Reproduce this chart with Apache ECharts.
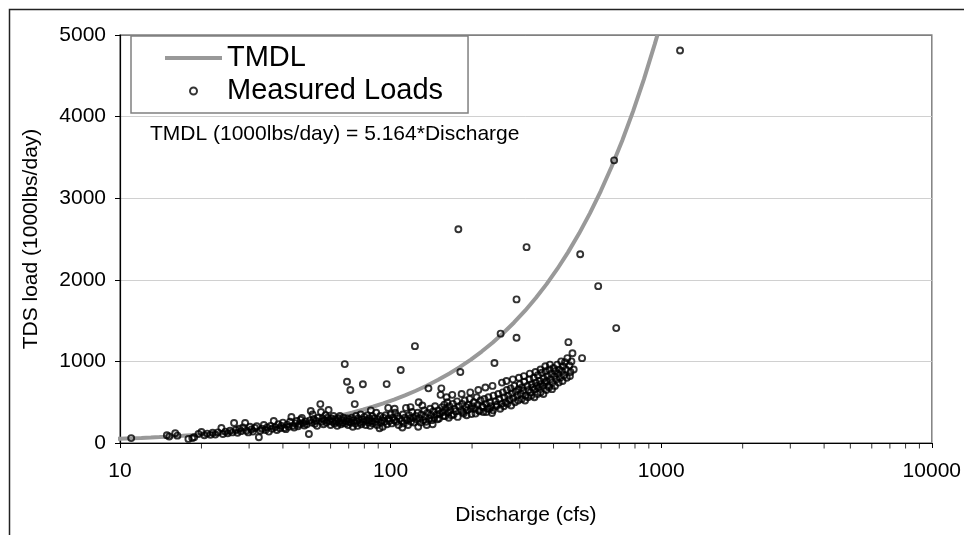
<!DOCTYPE html>
<html>
<head>
<meta charset="utf-8">
<script src="https://cdn.jsdelivr.net/npm/echarts@6/dist/echarts.min.js"></script>
<style>
html,body{margin:0;padding:0;background:#fff;}
#chart{width:964px;height:535px;}
</style>
</head>
<body>
<div id="chart"></div>
<script>
// ---- data ----
const xTickLabels = [10, 100, 1000, 10000];
const yTickLabels = [0, 1000, 2000, 3000, 4000, 5000];
const minorTickValues = [20,30,40,50,60,70,80,90,200,300,400,500,600,700,800,900,2000,3000,4000,5000,6000,7000,8000,9000];

// TMDL (1000lbs/day) = 5.164*Discharge, tabulated
const tmdlQ = [9.5,10,11,12,13,14,15,17,19,21,23,25,28,31,34,38,42,46,50,55,60,66,72,79,86,94,103,113,124,136,150,165,180,198,217,238,261,286,314,344,377,413,453,497,545,598,655,718,787,863,946,968];
const tmdlLoad = [49.06,51.64,56.80,61.97,67.13,72.30,77.46,87.79,98.12,108.44,118.77,129.10,144.59,160.08,175.58,196.23,216.89,237.54,258.20,284.02,309.84,340.82,371.81,407.96,444.10,485.42,531.89,583.53,640.34,702.30,774.60,852.06,929.52,1022.47,1120.59,1229.03,1347.80,1476.90,1621.50,1776.42,1946.83,2132.73,2339.29,2566.51,2814.38,3088.07,3382.42,3707.75,4064.07,4456.53,4885.14,4998.75];

// Measured loads [discharge cfs, load 1000lbs/day]
const measuredLoads = [
[11,60],[14.9,95],[15.2,80],[16,120],[16.3,90],[17.9,50],[18.5,60],[18.8,70],[19.5,110],[20,135],
[20.5,95],[21,115],[21.6,100],[22,125],[22.5,105],[23,130],[23.7,184],[24,110],[24.5,140],[25,120],[25.5,150],[26,130],[26.4,245],[26.8,160],[27.2,125],[27.6,175],[28,145],[28.5,190],[29,245],[29.3,150],[29.8,130],[30.2,200],[30.6,165],[31,140],[31.5,185],[32,205],[32.6,70],[33,150],[33.5,175],[34,220],[34.5,160],[35,190],[35.5,140],[36,210],[36.5,175],[37,270],[37.5,195],[38,160],[38.5,230],[39,180],[39.5,210],
[40,250],[40.5,185],[41,170],[41.5,225],[42,200],[42.5,260],[43,318],[43.5,210],[44,190],[44.5,240],[45,270],[45.5,205],[46,230],[46.5,285],[47,306],[47.5,245],[48,215],[48.5,265],[49,230],[49.9,110],[50.3,275],[50.7,392],[51,250],[51.5,350],[52,295],[52.5,235],[53,270],[53.5,210],[54,310],[55,477],[55.3,380],[55.7,260],[56,300],[56.5,230],[57,280],[57.5,340],[58,250],[58.5,310],[59,404],[59.5,270],[60,220],[60.5,300],[61,260],[61.5,330],[62,240],[62.5,290],[63,260],[63.5,210],[64,300],[64.5,250],[65,330],[65.5,230],[66,280],[66.5,250],[67,310],[67.7,967],[68,240],[68.5,270],[69,750],[69.3,300],[69.7,220],[70,260],[70.5,290],
[71,649],[71.5,250],[72,310],[72.5,200],[73,280],[73.7,477],[74,240],[74.5,330],[75,270],[75.5,210],[76,300],[77,250],[77.5,350],[78,230],[78.5,290],[79,720],[79.5,260],[80,320],[81,220],[81.5,280],[82,340],[83,250],[83.5,300],[84,210],[84.5,400],[85,270],[85.5,330],[86,240],[87,300],[88,260],[88.5,370],[89,220],[90,290],[91,180],[91.5,330],[92,250],[93,280],[93.5,200],[94,310],[95,260],[96,340],[96.7,722],[97,230],[98,430],[98.5,300],[99,270],[100,350],
[101,240],[102,310],[103,280],[103.5,420],[104,370],[105,260],[106,330],[107,220],[108,300],[109,894],[110,270],[110.5,190],[111,350],[112,240],[113,310],[114,430],[115,280],[116,220],[117,340],[118,300],[118.5,440],[119,260],[120,380],[121,310],[122,250],[123,1187],[124,330],[125,290],[126,370],[126.5,200],[127,500],[128,300],[129,250],[130,350],[131,460],[132,280],[133,400],[134,320],[135,260],[136,220],[137,370],[138,670],[139,300],[140,420],[141,340],[142,280],[143,230],[144,390],[145,310],[146,450],[148,350],[149,290],[150,400],
[151,300],[152,360],[153,590],[154,670],[155,440],[156,380],[157,330],[158,470],[159,330],[160,420],[161,560],[162,500],[163,370],[164,310],[165,450],[166,400],[168,340],[169,590],[170,480],[171,350],[172,420],[174,390],[176,510],[177,320],[178,2620],[179,450],[181,870],[182,400],[183,600],[184,480],[185,380],[186,360],[188,520],[190,440],[191,340],[192,400],[194,470],[196,540],[197,620],[198,420],[199,355],[200,450],[203,500],[205,420],[206,360],[208,560],[210,470],[211,650],[212,400],[213,390],[215,520],[218,450],[219,440],[220,380],[222,540],[224,680],[225,480],[226,380],[228,420],[230,560],[232,420],[233,500],[235,450],[237,367],[238,700],[239,400],[240,580],[242,980],[244,510],[246,450],[247,470],[250,600],
[252,540],[254,420],[255,1340],[257,480],[258,740],[260,620],[262,450],[263,560],[266,500],[268,760],[269,650],[270,480],[272,580],[275,530],[278,670],[279,460],[281,610],[283,780],[284,550],[287,700],[288,500],[290,630],[292,1760],[292,1290],[294,580],[296,520],[297,660],[298,800],[300,720],[303,600],[305,540],[306,680],[309,640],[311,820],[312,750],[314,520],[315,580],[318,2400],[320,700],[322,560],[323,650],[326,780],[327,850],[329,620],[331,580],[332,720],[335,680],[338,800],[340,560],[341,660],[343,870],[344,740],[347,700],[349,600],[350,830],[353,680],[356,760],[358,620],[358,900],[359,720],[362,860],[365,700],[367,600],[368,790],[371,740],[373,940],[374,880],[376,650],[377,760],[380,820],[383,700],[385,680],[386,900],[388,960],[390,780],[393,850],[395,660],[396,740],[400,920],
[403,820],[405,700],[406,880],[410,780],[413,960],[416,850],[418,740],[420,900],[423,800],[427,1000],[430,880],[432,760],[434,940],[437,830],[441,990],[445,900],[448,800],[450,1040],[454,1236],[458,950],[460,820],[462,870],[466,1000],[470,1100],[475,900],
[502,2313],[510,1040],[585,1922],[670,3464],[682,1408],[1174,4810]
];

const FONT = '"Liberation Sans", Arial, sans-serif';
const plainNum = v => String(Math.round(v));

const chart = echarts.init(document.getElementById('chart'), null, {renderer: 'canvas'});
chart.setOption({
  animation: false,
  backgroundColor: '#fff',
  textStyle: {fontFamily: FONT},
  grid: {
    left: 120, top: 35, width: 813, height: 408,
    show: true, backgroundColor: '#fff', borderColor: '#808080', borderWidth: 1.5
  },
  legend: {
    left: 131, top: 36, orient: 'vertical',
    padding: [7, 25, 7, 32],
    itemWidth: 57, itemHeight: 7, itemGap: 3,
    backgroundColor: '#fff', borderColor: '#808080', borderWidth: 1.5,
    textStyle: {fontSize: 29, fontFamily: FONT, color: '#000', lineHeight: 30},
    data: [
      {name: 'TMDL', itemStyle: {opacity: 0}, lineStyle: {width: 4, color: '#999999'}},
      {name: 'Measured Loads'}
    ]
  },
  xAxis: {
    type: 'log', logBase: 10, min: xTickLabels[0], max: xTickLabels[xTickLabels.length - 1],
    name: 'Discharge (cfs)', nameLocation: 'middle', nameGap: 62,
    nameTextStyle: {fontSize: 21, fontFamily: FONT, color: '#000'},
    axisLine: {show: true, onZero: false, lineStyle: {color: '#000', width: 1.2}},
    axisTick: {show: true, inside: false, length: 5, lineStyle: {color: '#000'}},
    axisLabel: {fontSize: 21, fontFamily: FONT, color: '#000', margin: 18, formatter: plainNum},
    splitLine: {show: false}
  },
  yAxis: {
    type: 'value', min: yTickLabels[0], max: yTickLabels[yTickLabels.length - 1], interval: 1000,
    name: 'TDS load (1000lbs/day)', nameLocation: 'middle', nameGap: 78,
    nameTextStyle: {fontSize: 21, fontFamily: FONT, color: '#000'},
    axisLine: {show: true, lineStyle: {color: '#000', width: 1.2}},
    axisTick: {show: true, inside: false, length: 5, lineStyle: {color: '#000'}},
    axisLabel: {fontSize: 21, fontFamily: FONT, color: '#000', margin: 14, formatter: plainNum},
    splitLine: {show: true, lineStyle: {color: ['#d0d0d0','#d0d0d0','#d0d0d0','#d0d0d0','#d0d0d0','#808080'], width: 1}}
  },
  graphic: [
    {type: 'rect', shape: {x: 9.5, y: 9.5, width: 1200, height: 1200},
     style: {fill: 'none', stroke: '#222', lineWidth: 1.5}, z: 100, silent: true},
    {type: 'text', left: 150, top: 124, z: 100,
     style: {text: 'TMDL (1000lbs/day) = 5.164*Discharge', font: '21px ' + FONT, fill: '#000'}}
  ],
  series: [
    {
      name: 'TMDL', type: 'line',
      data: tmdlQ.map((q, i) => [q, tmdlLoad[i]]),
      symbol: 'none', smooth: false, clip: false,
      lineStyle: {color: '#999999', width: 4},
      itemStyle: {color: '#999999'},
      z: 2
    },
    {
      name: 'Measured Loads', type: 'scatter',
      data: measuredLoads,
      symbol: 'circle', symbolSize: 6,
      itemStyle: {color: 'rgba(255,255,255,0)', borderColor: '#000', borderWidth: 1.9},
      z: 3
    },
    {
      name: 'minorTicks', type: 'scatter', silent: true, clip: false,
      data: minorTickValues.map(v => [v, 0]),
      symbol: 'rect', symbolSize: [1, 5], symbolOffset: [0, 3],
      itemStyle: {color: '#000'},
      z: 5
    }
  ]
});
</script>
</body>
</html>
